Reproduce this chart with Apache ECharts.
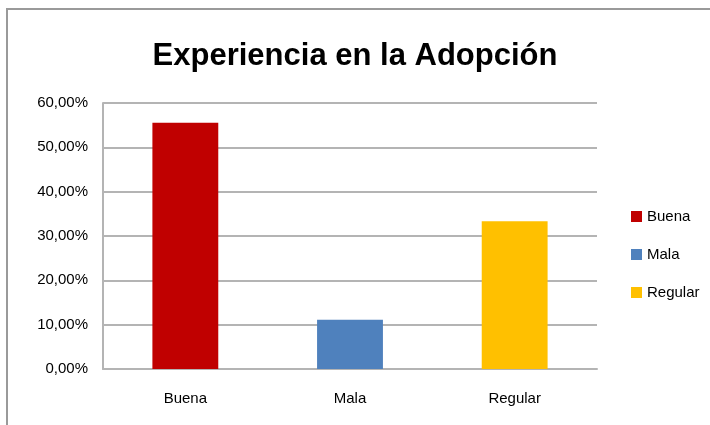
<!DOCTYPE html>
<html>
<head>
<meta charset="utf-8">
<script src="https://cdn.jsdelivr.net/npm/echarts@6/dist/echarts.min.js"></script>
<style>
  html, body { margin: 0; padding: 0; background: #fff; }
  #chart { width: 710px; height: 425px; }
</style>
</head>
<body>
<div id="chart"></div>
<script>
  // datos del gráfico
  const categorias = ['Buena', 'Mala', 'Regular'];
  const valores = [55.56, 11.11, 33.33];
  const colores = ['#C00000', '#4F81BD', '#FFC000'];
  const ticksY = [0, 10, 20, 30, 40, 50, 60];

  const fuente = '"Liberation Sans", "DejaVu Sans", sans-serif';

  // una serie por categoría para que la leyenda muestre cada una
  const series = categorias.map(function (nombre, i) {
    return {
      name: nombre,
      type: 'bar',
      stack: 'total',
      barWidth: '40%',
      itemStyle: { color: colores[i] },
      data: categorias.map(function (c, j) { return j === i ? valores[i] : '-'; })
    };
  });

  let myChart = echarts.init(document.getElementById('chart'));
  myChart.setOption({
    animation: false,
    title: {
      text: 'Experiencia en la Adopción',
      left: 'center',
      top: 36,
      textStyle: { fontFamily: fuente, fontWeight: 'bold', fontSize: 31, color: '#000' }
    },
    graphic: [{
      type: 'polyline',
      shape: { points: [[7, 425], [7, 9], [710, 9]] },
      style: { stroke: '#9a9a9a', lineWidth: 2, fill: null }
    }],
    legend: {
      orient: 'vertical',
      left: 626,
      top: 204,
      itemWidth: 11,
      itemHeight: 11,
      itemGap: 23,
      icon: 'rect',
      data: categorias,
      textStyle: { fontFamily: fuente, fontSize: 15, color: '#000' }
    },
    grid: { left: 103, right: 113, top: 103, bottom: 56 },
    xAxis: {
      type: 'category',
      data: categorias,
      axisTick: { show: false },
      axisLine: { lineStyle: { color: '#b4b4b4', width: 2 } },
      axisLabel: { fontFamily: fuente, fontSize: 15, color: '#000', margin: 22 }
    },
    yAxis: {
      type: 'value',
      min: ticksY[0],
      max: ticksY[ticksY.length - 1],
      interval: 10,
      axisLine: { show: true, lineStyle: { color: '#b4b4b4', width: 2 } },
      axisTick: { show: false },
      splitLine: { lineStyle: { color: '#b4b4b4', width: 2 } },
      axisLabel: {
        fontFamily: fuente, fontSize: 15, color: '#000', margin: 15,
        formatter: function (v) { return v.toFixed(2).replace('.', ',') + '%'; }
      }
    },
    series: series
  });
</script>
</body>
</html>
